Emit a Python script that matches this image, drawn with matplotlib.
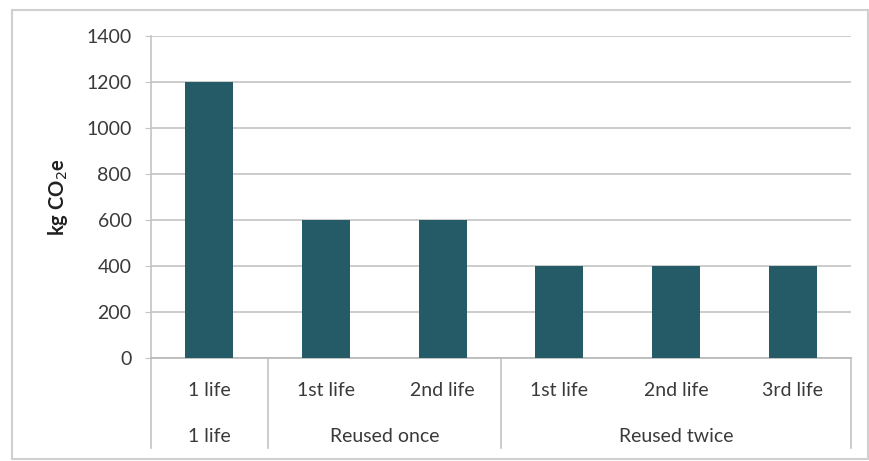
import matplotlib
matplotlib.use("Agg")
import matplotlib.pyplot as plt
from matplotlib.patches import Rectangle
from matplotlib.transforms import blended_transform_factory

# Data
life_labels = ["1 life", "1st life", "2nd life", "1st life", "2nd life", "3rd life"]
group_labels = ["1 life", "Reused once", "Reused twice"]
group_sizes = [1, 2, 3]
emissions = [1200, 600, 600, 400, 400, 400]
y_ticks = [0, 200, 400, 600, 800, 1000, 1200, 1400]

plt.rcParams["font.family"] = ["Lato", "DejaVu Sans"]

W, H = 870, 461
FS = 14
fig = plt.figure(figsize=(W / 100, H / 100), dpi=100)

# Chart frame
fig.patches.append(Rectangle((12 / W, 1 - 459 / H), (868 - 12) / W, (459 - 10) / H,
                             transform=fig.transFigure, fill=False,
                             edgecolor="#d0d0d0", linewidth=1.5))

ax = fig.add_axes([151 / W, 1 - 358 / H, 700 / W, 322 / H])
x = list(range(len(emissions)))
ax.bar(x, emissions, width=0.41, color="#245b66", zorder=3)

ax.set_xlim(-0.5, len(emissions) - 0.5)
ax.set_ylim(0, 1400)
ax.set_yticks(y_ticks)
ax.set_yticklabels([str(v) for v in y_ticks], fontsize=FS, color="#3a3a3a")
ax.yaxis.grid(True, color="#c4c4c4", linewidth=1.2, zorder=0)
ax.tick_params(axis="y", length=4, color="#c4c4c4", pad=10)
ax.set_xticks([])
for s in ["top", "right"]:
    ax.spines[s].set_visible(False)
ax.spines["left"].set_color("#c4c4c4")
ax.spines["left"].set_linewidth(1.2)
ax.spines["bottom"].set_color("#b8b8b8")
ax.spines["bottom"].set_linewidth(1.2)

ax.set_ylabel("kg CO$_2$e", fontsize=14.5, fontweight="bold", color="#202020", labelpad=12)

# Two-level category axis
tr = blended_transform_factory(ax.transData, ax.transAxes)
px = 1 / 322.0
for xi, lab in zip(x, life_labels):
    ax.text(xi, -32 * px, lab, transform=tr, ha="center", va="center",
            fontsize=FS, color="#3a3a3a", clip_on=False)

start = 0
bounds = [-0.5]
for g, n in zip(group_labels, group_sizes):
    center = start + (n - 1) / 2
    ax.text(center, -78 * px, g, transform=tr, ha="center", va="center",
            fontsize=FS, color="#3a3a3a", clip_on=False)
    start += n
    bounds.append(start - 0.5)

for b in bounds:
    ax.plot([b, b], [0, -90 * px], transform=tr, color="#c4c4c4",
            linewidth=1.2, clip_on=False)

fig.savefig("out.png", dpi=100)
